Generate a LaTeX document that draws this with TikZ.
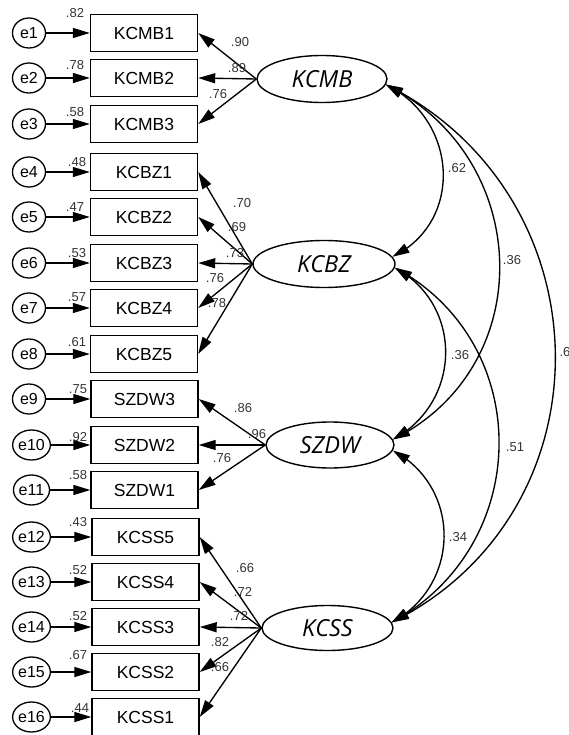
\documentclass[tikz,border=0pt]{standalone}
\usepackage{fontspec}
\setmainfont{Liberation Sans}
\newfontfamily\latfont{Open Sans}
\usetikzlibrary{arrows.meta,shapes.geometric,bending}
\begin{document}
\begin{tikzpicture}[x=1pt,y=-1pt,
  obs/.style={draw, line width=1.4pt, minimum width=107pt, minimum height=37pt, inner sep=0pt, font=\fontsize{17.5}{19}\selectfont},
  err/.style={draw, ellipse, line width=1.3pt, minimum width=33pt, minimum height=30pt, inner sep=0pt, font=\fontsize{16}{17}\selectfont},
  lat/.style={draw, ellipse, line width=1.4pt, inner sep=0pt, font=\fontsize{23.5}{26}\selectfont\latfont\itshape},
  num/.style={font=\fontsize{13}{14}\selectfont, text=black!80, inner sep=0pt},
  arr/.style={line width=1.35pt, -{Triangle[length=17pt,width=10pt]}},
  cov/.style={line width=1.35pt, {Triangle[length=17pt,width=10pt]}-{Triangle[length=17pt,width=10pt]}},
]
\useasboundingbox (0,0) rectangle (569,735);

% indicators, errors and error-variance labels
\foreach \i/\y/\nm/\ex/\bx/\v/\lx/\ly in {
  1/33/KCMB1/29/144/.82/75/13,
  2/78/KCMB2/29/144/.78/75/65,
  3/124/KCMB3/29/144/.58/75/112,
  4/172/KCBZ1/29/144/.48/77/162,
  5/217/KCBZ2/29/144/.47/75/207,
  6/263/KCBZ3/29/144/.53/77/253,
  7/308/KCBZ4/29/144/.57/77/297,
  8/354/KCBZ5/29/144/.61/77/342,
  9/399/SZDW3/29/144.5/.75/78/389,
  10/445/SZDW2/31.5/144.5/.92/78/437,
  11/490/SZDW1/31.5/144.5/.58/78/475,
  12/537/KCSS5/31.5/145.5/.43/78/522,
  13/582/KCSS4/31.5/145.5/.52/78/570,
  14/627/KCSS3/31.5/145.5/.52/78/616,
  15/672/KCSS2/31.5/145.5/.67/78/655,
  16/717/KCSS1/31.5/145.5/.44/80/708}{
  \node[err] (e\i) at (\ex,\y) {e\i};
  \node[obs] (o\i) at (\bx,\y) {\nm};
  \draw[arr] (e\i) -- (o\i);
  \node[num] (r\i) at (\lx,\ly) {\v};
}

% latent variables
\node[lat, minimum width=130pt, minimum height=47pt] (KCMB) at (322,79) {KCMB};
\node[lat, minimum width=142pt, minimum height=47pt] (KCBZ) at (324,264) {KCBZ};
\node[lat, minimum width=128pt, minimum height=46pt] (SZDW) at (330,445) {SZDW};
\node[lat, minimum width=131pt, minimum height=45pt] (KCSS) at (327.5,628) {KCSS};

% loadings
\foreach \o in {1,2,3} {\draw[arr] (KCMB.west) -- (o\o.east);}
\foreach \o in {4,5,6,7,8} {\draw[arr] (KCBZ.west) -- (o\o.east);}
\foreach \o in {9,10,11} {\draw[arr] (SZDW.west) -- (o\o.east);}
\foreach \o in {12,13,14,15,16} {\draw[arr] (KCSS.west) -- (o\o.east);}

% loading labels
\foreach \n/\x/\y/\v in {
  a1/240/42/.90, a2/237/68/.89, a3/218/94/.76,
  b1/242/203/.70, b2/237/227/.69, b3/235/253/.73, b4/215/278/.76, b5/217/303/.78,
  c1/243/408/.86, c2/257/434/.96, c3/222/458/.76,
  d1/245/568/.66, d2/243/592/.72, d3/239/616/.72, d4/220/642/.82, d5/220/667/.66}{
  \node[num] (\n) at (\x,\y) {\v};
}

% covariances
\draw[cov] (KCMB.-5) .. controls +(72,35) and +(72,-35) .. (KCBZ.6);
\draw[cov] (KCMB.-5) .. controls +(147,73) and +(147,-73) .. (SZDW.5);
\draw[cov] (KCMB.-5) .. controls +(222,111) and +(222,-111) .. (KCSS.5);
\draw[cov] (KCBZ.-3) .. controls +(69,37) and +(69,-37) .. (SZDW.5);
\draw[cov] (KCBZ.-3) .. controls +(141,76) and +(141,-76) .. (KCSS.5);
\draw[cov] (SZDW.-5) .. controls +(69,37) and +(69,-37) .. (KCSS.5);

% covariance labels
\node[num] (c62) at (457,168) {.62};
\node[num] (c36a) at (512,260) {.36};
\node[num] (c36b) at (460,355) {.36};
\node[num] (c51) at (515,447) {.51};
\node[num] (c34) at (458,537) {.34};
\node[num] (c6) at (565,352) {.6};
\end{tikzpicture}
\end{document}
